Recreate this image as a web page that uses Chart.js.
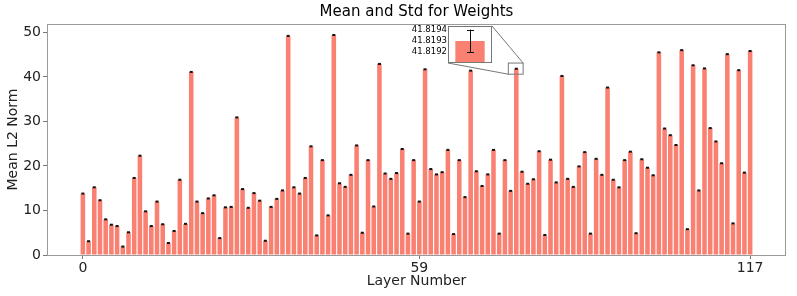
<!DOCTYPE html>
<html>
<head>
<meta charset="utf-8">
<script src="https://cdn.jsdelivr.net/npm/chart.js@4.4.0/dist/chart.umd.min.js"></script>
<style>
  html, body { margin: 0; padding: 0; background: #fff; }
  #wrap { position: relative; width: 797px; height: 296px; }
  #main { position: absolute; left: 0; top: 0; }
  #inset { position: absolute; }
</style>
</head>
<body>
<div id="wrap">
  <canvas id="main" width="797" height="296"></canvas>
  <canvas id="inset"></canvas>
</div>
<script>
// layer numbers 0..117
const layers = Array.from({ length: 118 }, (_, i) => i);

const meanNorm = [
  13.8, 3.1, 15.2, 12.3, 8.0, 6.8, 6.5, 1.9, 5.1, 17.3,
  22.3, 9.8, 6.5, 12.0, 6.9, 2.7, 5.4, 16.9, 7.0, 41.1,
  12.0, 9.4, 12.7, 13.4, 3.8, 10.7, 10.8, 30.9, 14.8, 10.6,
  13.9, 12.2, 3.2, 10.8, 12.6, 14.5, 49.2, 15.2, 13.8, 17.3,
  24.4, 4.4, 21.3, 8.9, 49.4, 16.1, 15.3, 18.0, 24.6, 5.0,
  21.3, 10.9, 42.9, 18.3, 17.1, 18.4, 23.8, 4.8, 21.3, 12.0,
  41.7, 19.3, 18.1, 18.6, 23.6, 4.7, 21.3, 13.0, 41.4, 18.8,
  15.5, 18.1, 23.6, 4.8, 21.3, 14.4, 41.8193, 18.7, 16.0, 17.0,
  23.3, 4.5, 21.4, 16.3, 40.2, 17.1, 15.3, 19.9, 23.1, 4.8,
  21.6, 18.0, 37.6, 16.9, 15.2, 21.3, 23.2, 4.9, 21.5, 19.6,
  17.9, 45.5, 28.4, 26.9, 24.7, 46.0, 5.8, 42.6, 14.5, 41.9,
  28.5, 25.5, 20.6, 45.1, 7.1, 41.5, 18.5, 45.8
];

const xTicks = [0, 59, 117];
const yTicks = [0, 10, 20, 30, 40, 50];

// zoomed layer shown in the inset
const zoomLayer = 76;
const zoomMean = 41.8193;
const zoomStd = 0.000105;
const insetTicks = [41.8192, 41.8193, 41.8194];

// region marked on the main axes, in data units
const zoomRect = { x0: 74.6, x1: 77.2, y0: 40.6, y1: 43.1 };
// inset axes box, page pixels
const insetBox = { left: 448, top: 26, right: 492, bottom: 63 };

const BAR = '#FA8072';
const SPINE = '#9a9a9a';

Chart.defaults.font.family = "'DejaVu Sans', sans-serif";
Chart.defaults.color = '#222';

const mainPlugin = {
  id: 'mainExtras',
  afterDatasetsDraw(chart) {
    const { ctx, chartArea: a, scales: { x, y } } = chart;
    ctx.save();
    // spines
    ctx.strokeStyle = SPINE;
    ctx.lineWidth = 1;
    ctx.strokeRect(a.left + 0.5, a.top + 0.5, a.right - a.left - 1, a.bottom - a.top);
    // error caps (std is tiny so only the cap shows)
    ctx.fillStyle = '#111';
    chart.getDatasetMeta(0).data.forEach(bar => {
      ctx.fillRect(bar.x - 1.5, bar.y - 1, 3, 2);
    });
    // zoom rectangle + connectors
    const rx0 = x.getPixelForValue(zoomRect.x0), rx1 = x.getPixelForValue(zoomRect.x1);
    const ry0 = y.getPixelForValue(zoomRect.y1), ry1 = y.getPixelForValue(zoomRect.y0);
    ctx.strokeStyle = '#777';
    ctx.strokeRect(rx0, ry0, rx1 - rx0, ry1 - ry0);
    ctx.beginPath();
    ctx.moveTo(insetBox.right, insetBox.top);
    ctx.lineTo(rx1, ry0);
    ctx.moveTo(insetBox.left, insetBox.bottom);
    ctx.lineTo(rx0, ry1);
    ctx.stroke();
    ctx.restore();
  }
};

new Chart(document.getElementById('main'), {
  type: 'bar',
  data: {
    labels: layers,
    datasets: [{
      data: meanNorm,
      backgroundColor: BAR,
      barPercentage: 0.8,
      categoryPercentage: 1
    }]
  },
  options: {
    responsive: false,
    animation: false,
    devicePixelRatio: 1,
    layout: { padding: { top: 0, right: 11, left: 0, bottom: 0 } },
    plugins: {
      legend: { display: false },
      tooltip: { enabled: false },
      title: {
        display: true,
        text: 'Mean and Std for Weights',
        fullSize: false,
        color: '#000',
        font: { size: 15, weight: 'normal' },
        padding: { top: 3, bottom: 3 }
      }
    },
    scales: {
      x: {
        type: 'linear',
        min: -6.29,
        max: 123.29,
        offset: false,
        grid: { drawOnChartArea: false, offset: false, tickLength: 4, color: '#777' },
        border: { display: false },
        ticks: { font: { size: 14 }, padding: 1, maxRotation: 0, autoSkip: false },
        afterBuildTicks: s => { s.ticks = xTicks.map(v => ({ value: v })); },
        afterFit: s => { s.height = 41; },
        title: {
          display: true, text: 'Layer Number', color: '#222',
          font: { size: 14 }, padding: { top: 0, bottom: 6 }
        }
      },
      y: {
        min: 0,
        max: 51.87,
        grid: { drawOnChartArea: false, tickLength: 4, color: '#777' },
        border: { display: false },
        ticks: { font: { size: 14 }, padding: 2 },
        afterBuildTicks: s => { s.ticks = yTicks.map(v => ({ value: v })); },
        afterFit: s => { s.width = 47; },
        title: {
          display: true, text: 'Mean L2 Norm', color: '#222',
          font: { size: 14 }, padding: { top: 5, bottom: 0 }
        }
      }
    }
  },
  plugins: [mainPlugin]
});

// inset axes
const insetCanvas = document.getElementById('inset');
const insetYAxisW = 48, insetPadTop = 10, insetPadRight = 8, insetPadBottom = 7;
insetCanvas.width = insetYAxisW + (insetBox.right - insetBox.left) + insetPadRight;
insetCanvas.height = insetPadTop + (insetBox.bottom - insetBox.top) + insetPadBottom;
insetCanvas.style.left = (insetBox.left - insetYAxisW) + 'px';
insetCanvas.style.top = (insetBox.top - insetPadTop) + 'px';

const insetPlugin = {
  id: 'insetExtras',
  beforeDatasetsDraw(chart) {
    const { ctx, chartArea: a } = chart;
    ctx.save();
    ctx.fillStyle = '#fff';
    ctx.fillRect(a.left, a.top, a.right - a.left, a.bottom - a.top);
    ctx.restore();
  },
  afterDatasetsDraw(chart) {
    const { ctx, chartArea: a, scales: { y } } = chart;
    const bar = chart.getDatasetMeta(0).data[0];
    const yHi = y.getPixelForValue(zoomMean + zoomStd);
    const yLo = y.getPixelForValue(zoomMean - zoomStd);
    const cx = Math.round(bar.x) + 0.5;
    ctx.save();
    ctx.strokeStyle = '#111';
    ctx.lineWidth = 1;
    ctx.beginPath();
    ctx.moveTo(cx, yHi); ctx.lineTo(cx, yLo);
    ctx.moveTo(cx - 3.5, Math.round(yHi) + 0.5); ctx.lineTo(cx + 3.5, Math.round(yHi) + 0.5);
    ctx.moveTo(cx - 3.5, Math.round(yLo) + 0.5); ctx.lineTo(cx + 3.5, Math.round(yLo) + 0.5);
    ctx.stroke();
    ctx.strokeStyle = '#777';
    ctx.strokeRect(a.left + 0.5, a.top + 0.5, a.right - a.left - 1, a.bottom - a.top - 1);
    ctx.restore();
  }
};

new Chart(insetCanvas, {
  type: 'bar',
  data: {
    labels: [zoomLayer],
    datasets: [{
      data: [zoomMean],
      backgroundColor: BAR,
      barPercentage: 0.8 / 1.2,
      categoryPercentage: 1
    }]
  },
  options: {
    responsive: false,
    animation: false,
    devicePixelRatio: 1,
    layout: { padding: { top: insetPadTop, right: insetPadRight, bottom: insetPadBottom, left: 0 } },
    plugins: { legend: { display: false }, tooltip: { enabled: false } },
    scales: {
      x: { display: false },
      y: {
        min: 41.819097,
        max: 41.819438,
        grid: { display: false, drawTicks: false, tickLength: 0 },
        border: { display: false },
        ticks: { font: { size: 8.5 }, color: '#000', padding: 1, callback: v => v.toFixed(4) },
        afterBuildTicks: s => { s.ticks = insetTicks.map(v => ({ value: v })); },
        afterFit: s => { s.width = insetYAxisW; }
      }
    }
  },
  plugins: [insetPlugin]
});
</script>
</body>
</html>
